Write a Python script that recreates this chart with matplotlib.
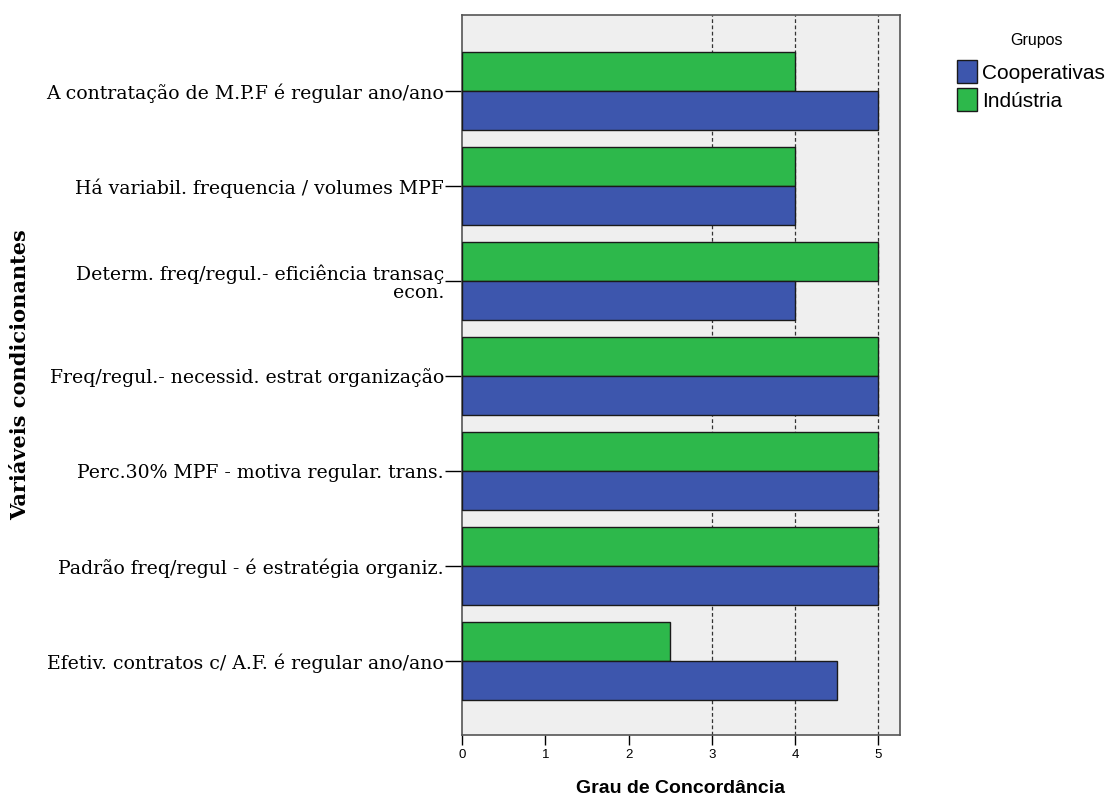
import numpy as np
import matplotlib.pyplot as plt
from matplotlib.patches import Patch

categorias = [
    'A contratação de M.P.F é regular ano/ano',
    'Há variabil. frequencia / volumes MPF',
    'Determ. freq/regul.- eficiência transaç\necon.',
    'Freq/regul.- necessid. estrat organização',
    'Perc.30% MPF - motiva regular. trans.',
    'Padrão freq/regul - é estratégia organiz.',
    'Efetiv. contratos c/ A.F. é regular ano/ano',
]
industria = [4, 4, 5, 5, 5, 5, 2.5]
cooperativas = [5, 4, 4, 5, 5, 5, 4.5]
ticks_x = [0, 1, 2, 3, 4, 5]

cor_coop = '#3d56ad'
cor_ind = '#2db84b'

fig = plt.figure(figsize=(11.17, 8), dpi=100)
ax = fig.add_axes([0.4136, 0.08125, 0.3921, 0.9])
ax.set_facecolor('#efefef')

y = np.arange(len(categorias))
h = 0.41
ax.barh(y - h / 2, industria, height=h, color=cor_ind, edgecolor='#1a1a1a', linewidth=1, zorder=3)
ax.barh(y + h / 2, cooperativas, height=h, color=cor_coop, edgecolor='#1a1a1a', linewidth=1, zorder=3)

for v in [3, 4, 5]:
    ax.axvline(v, color='#333333', linestyle=(0, (3, 2)), linewidth=0.9, zorder=1)

ax.set_xlim(0, 5.26)
ax.set_ylim(6.78, -0.8)
ax.set_xticks(ticks_x)
ax.set_xticklabels([str(t) for t in ticks_x], fontsize=9.5, family='Liberation Sans')
ax.set_yticks(y)
ax.set_yticklabels(categorias, fontsize=13.6, family='DejaVu Serif', linespacing=1.05)
ax.tick_params(axis='y', length=12, width=1, pad=1)
ax.tick_params(axis='x', length=7, width=1, pad=3)

for s in ax.spines.values():
    s.set_color('#555555')
    s.set_linewidth(1.2)

ax.set_xlabel('Grau de Concordância', fontsize=14, fontweight='bold', family='Liberation Sans', labelpad=14)
ax.set_ylabel('Variáveis condicionantes', fontsize=15, fontweight='bold', family='DejaVu Serif')
ax.yaxis.set_label_coords(-0.985, 0.5)

# legenda
fig.text(0.9275, 0.95, 'Grupos', ha='center', va='center', fontsize=11.5, family='Liberation Sans')
handles = [Patch(facecolor=cor_coop, edgecolor='#1a1a1a', label='Cooperativas'),
           Patch(facecolor=cor_ind, edgecolor='#1a1a1a', label='Indústria')]
leg = fig.legend(handles=handles, loc='upper left', bbox_to_anchor=(0.849, 0.935),
                 frameon=False, prop={'family': 'Liberation Sans', 'size': 15},
                 handlelength=1.0, handleheight=1.3, handletextpad=0.2, labelspacing=0.25,
                 borderaxespad=0)

fig.savefig('out.png', dpi=100)
